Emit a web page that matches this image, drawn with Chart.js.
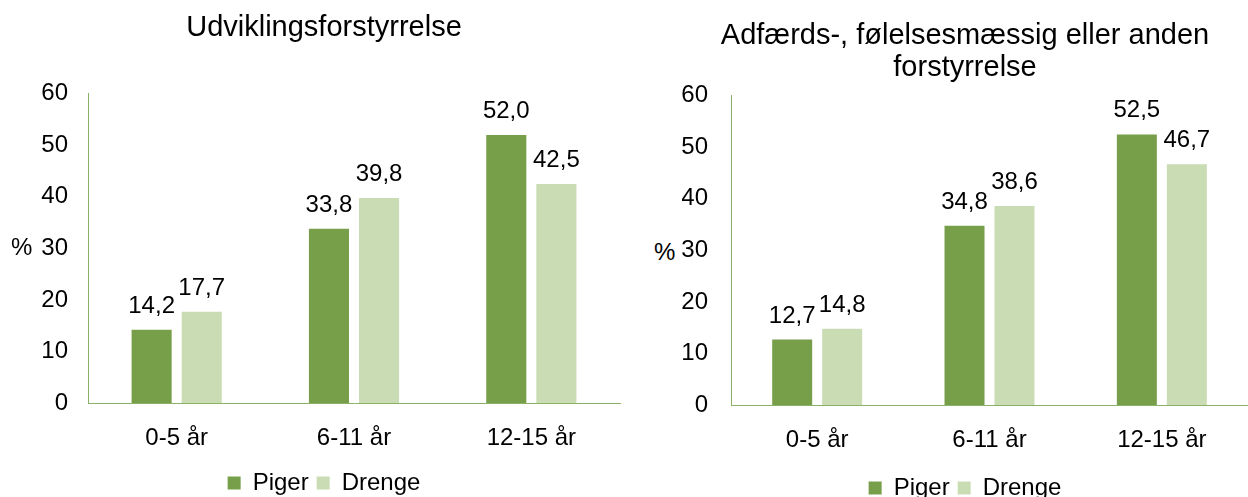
<!DOCTYPE html>
<html>
<head>
<meta charset="utf-8">
<script src="https://cdn.jsdelivr.net/npm/chart.js@4.4.1/dist/chart.umd.min.js"></script>
<style>
  body { margin: 0; background: #fff; width: 1248px; height: 497px; position: relative; overflow: hidden; }
  .box { position: absolute; top: 0; }
  .pct { position: absolute; font: 24px "Liberation Sans", Arial, sans-serif; color: #000; line-height: 28px; }
</style>
</head>
<body>
<div class="box" style="left:0;width:648px;height:505px"><canvas id="chart-udv"></canvas></div>
<div class="box" style="left:682px;width:566px;height:510px"><canvas id="chart-adf"></canvas></div>
<div class="pct" style="left:11px;top:233px">%</div>
<div class="pct" style="left:654px;top:238px">%</div>
<script>
// kategorier og serier
const categories = ["0-5 år", "6-11 år", "12-15 år"];
const seriesNames = ["Piger", "Drenge"];
const udvPiger = [14.2, 33.8, 52.0];
const udvDrenge = [17.7, 39.8, 42.5];
const adfPiger = [12.7, 34.8, 52.5];
const adfDrenge = [14.8, 38.6, 46.7];
const yMin = 0, yMax = 60, yStep = 10;

const FONT = "'Liberation Sans', Arial, sans-serif";
const colorPiger = "#779e49";
const colorDrenge = "#cadcb4";
const axisColor = "#8bb068";

Chart.defaults.font.family = FONT;
Chart.defaults.color = "#000";

// tegner værdier over søjlerne (dansk komma)
const valueLabels = {
  id: "valueLabels",
  afterDatasetsDraw(chart) {
    const ctx = chart.ctx;
    ctx.save();
    ctx.font = "24px " + FONT;
    ctx.fillStyle = "#000";
    ctx.textAlign = "center";
    ctx.textBaseline = "alphabetic";
    chart.data.datasets.forEach((ds, i) => {
      chart.getDatasetMeta(i).data.forEach((bar, j) => {
        const txt = ds.data[j].toFixed(1).replace(".", ",");
        ctx.fillText(txt, bar.x, bar.y - 17);
      });
    });
    ctx.restore();
  },
};

function makeChart(id, title, piger, drenge, cfg) {
  const ctx = document.getElementById(id).getContext("2d");
  return new Chart(ctx, {
    type: "bar",
    data: {
      labels: categories,
      datasets: [
        { label: seriesNames[0], data: piger, backgroundColor: colorPiger },
        { label: seriesNames[1], data: drenge, backgroundColor: colorDrenge },
      ],
    },
    options: {
      responsive: true,
      maintainAspectRatio: false,
      animation: false,
      categoryPercentage: cfg.catPct,
      barPercentage: 0.8,
      layout: { padding: { left: cfg.padLeft, right: cfg.padRight, bottom: 0 } },
      plugins: {
        title: {
          display: true,
          text: title,
          color: "#000",
          font: { size: 29, weight: "normal", lineHeight: cfg.titleLH },
          padding: { top: cfg.titleTop, bottom: cfg.titleBottom },
        },
        legend: {
          position: "bottom",
          labels: { boxWidth: 13, boxHeight: 13, font: { size: 24 }, padding: 8 },
        },
        tooltip: { enabled: false },
      },
      scales: {
        x: {
          grid: { display: false, drawTicks: false },
          border: { color: axisColor, width: 1 },
          ticks: { font: { size: 24 }, padding: 21 },
          afterFit(scale) {
            scale.height = cfg.axisBottom;
          },
        },
        y: {
          min: yMin,
          max: yMax,
          grid: { display: false, drawTicks: false },
          border: { color: axisColor, width: 1 },
          ticks: { stepSize: yStep, font: { size: 24 }, padding: cfg.tickPad },
          afterFit(scale) {
            scale.width = cfg.axisLeft;
          },
        },
      },
    },
    plugins: [valueLabels],
  });
}

makeChart("chart-udv", "Udviklingsforstyrrelse", udvPiger, udvDrenge, {
  catPct: 0.565, padLeft: 28, padRight: 28, titleLH: 1.2, titleTop: 11, titleBottom: 48,
  tickPad: 20, axisLeft: 60, axisBottom: 60,
});

makeChart("chart-adf", ["Adfærds-, følelsesmæssig eller anden", "forstyrrelse"], adfPiger, adfDrenge, {
  catPct: 0.58, padLeft: 0, padRight: 0, titleLH: 1.1, titleTop: 20, titleBottom: 12,
  tickPad: 23, axisLeft: 49, axisBottom: 63,
});
</script>
</body>
</html>
